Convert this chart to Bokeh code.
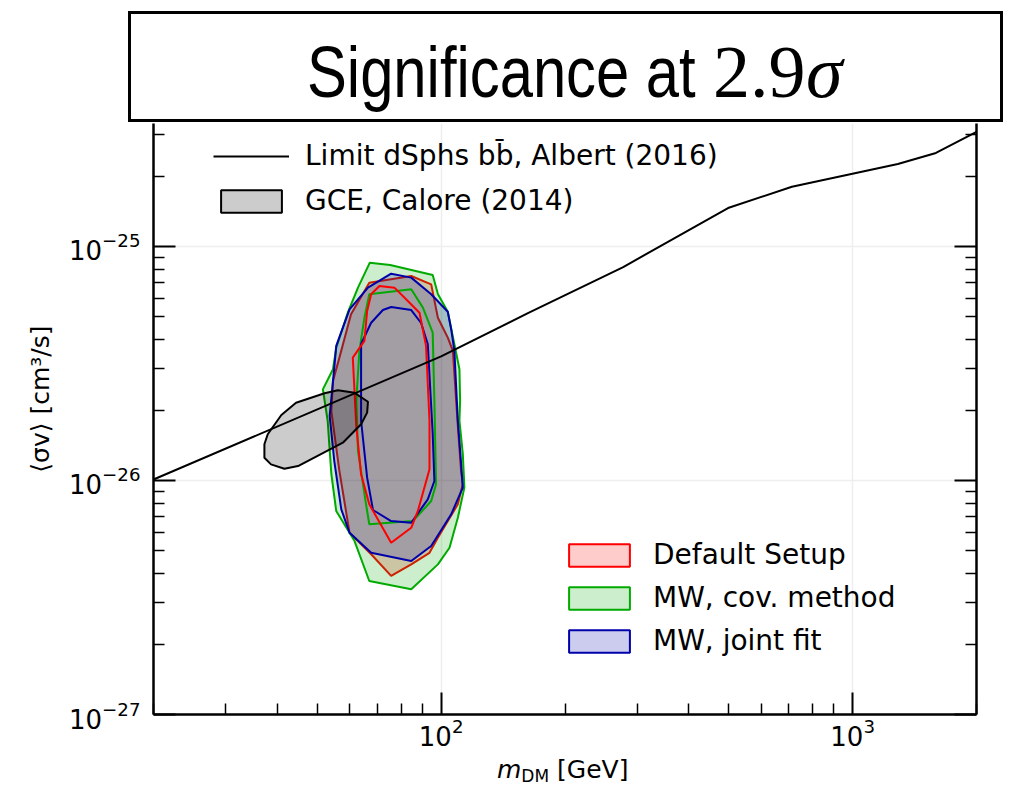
from bokeh.plotting import figure
from bokeh.layouts import column
from bokeh.models import LogAxis, FixedTicker, LogTickFormatter, Legend, LegendItem, Div
from bokeh.embed import file_html
from bokeh.resources import INLINE

# ---------------- data ----------------
x_major = [100, 1000]
x_minor = [20, 30, 40, 50, 60, 70, 80, 90, 200, 300, 400, 500, 600, 700, 800, 900, 2000]
y_major = [1e-27, 1e-26, 1e-25]
y_minor = [2e-27, 3e-27, 4e-27, 5e-27, 6e-27, 7e-27, 8e-27, 9e-27,
           2e-26, 3e-26, 4e-26, 5e-26, 6e-26, 7e-26, 8e-26, 9e-26,
           2e-25, 3e-25]

limit_mass = [20, 100, 163, 277, 498, 712, 1288, 1594, 2000]
limit_sv = [1.01e-26, 3.39e-26, 5.20e-26, 8.17e-26, 1.46e-25, 1.80e-25, 2.25e-25, 2.51e-25, 3.09e-25]

gce_mass = [56.1, 61.6, 66.4, 66.1, 63.9, 57.7, 44.9, 41.6, 38.6, 37.2, 37.2, 37.9, 40.9, 44.4, 52.1]
gce_sv = [2.43e-26, 2.37e-26, 2.17e-26, 1.95e-26, 1.74e-26, 1.45e-26, 1.153e-26, 1.123e-26,
          1.172e-26, 1.251e-26, 1.428e-26, 1.576e-26, 1.905e-26, 2.15e-26, 2.36e-26]

cov_outer_mass = [67.1, 75.2, 95.4, 98.2, 103.8, 107.7, 110.8, 111.2, 110.8, 112.9, 113.9, 109.8, 104.8,
                  98.2, 84.6, 66.9, 61.6, 55.6, 54.1, 53.0, 51.6, 54.6, 55.6, 59.3, 62.8]
cov_outer_sv = [8.53e-26, 8.34e-26, 7.55e-26, 6.26e-26, 5.26e-26, 3.82e-26, 2.99e-26, 2.19e-26, 1.80e-26,
                1.30e-26, 9.32e-27, 6.93e-27, 5.16e-27, 4.38e-27, 3.43e-27, 3.72e-27, 5.51e-27, 7.41e-27,
                1.066e-26, 1.80e-26, 2.45e-26, 2.99e-26, 3.69e-26, 5.21e-26, 6.67e-26]
cov_inner_mass = [66.9, 84.6, 90.3, 95.4, 96.3, 97.2, 94.6, 85.4, 66.9, 65.7, 62.8, 62.2, 63.3, 65.1]
cov_inner_sv = [6.25e-26, 6.57e-26, 5.48e-26, 4.28e-26, 2.19e-26, 9.63e-27, 8.17e-27, 6.71e-27,
                6.50e-27, 7.91e-27, 1.337e-26, 2.19e-26, 3.58e-26, 4.96e-26]

joint_outer_mass = [75.6, 84.6, 94.6, 103.8, 105.8, 107.7, 109.8, 111.4, 112.9, 105.8, 94.6, 84.6, 67.6,
                    59.9, 57.2, 55.0, 53.6, 55.1, 55.6, 59.9, 66.4]
joint_outer_sv = [7.65e-26, 7.36e-26, 6.25e-26, 5.26e-26, 4.43e-26, 3.58e-26, 1.80e-26, 1.294e-26,
                  9.32e-27, 7.17e-27, 5.25e-27, 4.53e-27, 4.91e-27, 5.98e-27, 7.53e-27, 1.211e-26,
                  1.887e-26, 3.14e-26, 3.76e-26, 5.39e-26, 6.67e-26]
joint_inner_mass = [75.6, 84.6, 89.4, 92.8, 95.4, 96.3, 92.8, 84.6, 75.6, 68.3, 66.1, 63.9, 63.9, 67.6, 72.2]
joint_inner_sv = [5.51e-26, 5.35e-26, 4.71e-26, 3.83e-26, 1.58e-26, 9.95e-27, 8.31e-27, 6.60e-27,
                  6.71e-27, 7.48e-27, 1.028e-26, 1.80e-26, 3.83e-26, 4.72e-26, 5.35e-26]

default_outer_mass = [66.9, 84.6, 94.6, 98.2, 103.8, 106.8, 109.8, 111.8, 112.9, 109.8, 98.2, 93.7, 84.6,
                      75.6, 67.6, 59.9, 56.6, 54.1, 54.6, 56.6, 60.4]
default_outer_sv = [7.00e-26, 7.48e-26, 6.89e-26, 4.96e-26, 4.08e-26, 3.58e-26, 1.71e-26, 1.098e-26,
                    9.63e-27, 7.91e-27, 5.69e-27, 4.91e-27, 4.38e-27, 3.91e-27, 4.84e-27, 5.98e-27,
                    1.098e-26, 1.98e-26, 2.66e-26, 3.35e-26, 5.13e-26]
default_inner_mass = [70.8, 77.0, 83.0, 88.6, 91.9, 93.7, 93.7, 87.8, 84.6, 75.6, 66.9, 63.9, 62.2,
                      61.0, 65.1, 66.1, 67.6]
default_inner_sv = [6.78e-26, 6.67e-26, 5.85e-26, 5.21e-26, 3.76e-26, 1.80e-26, 1.117e-26, 7.41e-27,
                    6.28e-27, 5.42e-27, 7.91e-27, 1.063e-26, 1.71e-26, 3.35e-26, 3.95e-26, 5.30e-26, 6.25e-26]

RED, GREEN, BLUE = "#ff0000", "#00aa00", "#0000aa"

# ---------------- title box (HTML strip above the plot) ----------------
title_html = (
    '<div style="position:relative;width:1009px;height:123px;overflow:hidden;background:white;">'
    '<div style="position:absolute;left:128px;top:11px;width:875px;height:111px;box-sizing:border-box;'
    'border:3px solid black;background:white;"></div>'
    '<span style="position:absolute;left:307px;top:36px;white-space:nowrap;'
    "font-family:'Liberation Sans';font-size:72px;line-height:72px;color:black;"
    'transform:scaleX(0.83);transform-origin:0 0;">Significance at</span>'
    '<span style="position:absolute;left:713px;top:35px;white-space:nowrap;'
    "font-family:'Liberation Serif';font-size:74px;line-height:74px;color:black;\">2.9</span>"
    '<span style="position:absolute;left:806px;top:35px;white-space:nowrap;'
    "font-family:'Liberation Serif';font-style:italic;font-size:74px;line-height:74px;color:black;\">\u03c3</span>"
    '</div>'
)
title_div = Div(text=title_html, width=1009, height=123, margin=0)

# ---------------- main figure ----------------
p = figure(frame_width=823, frame_height=591, x_axis_type="log", y_axis_type="log",
           x_range=(20, 2000), y_range=(1e-27, 3.354e-25), title=None,
           output_backend="svg", toolbar_location=None,
           min_border_left=153, min_border_right=33, min_border_top=0, min_border_bottom=44)
p.outline_line_color = None
p.background_fill_color = "white"
p.border_fill_color = "white"

right_axis = LogAxis()
p.add_layout(right_axis, "right")

def style_axis(ax, ticks, minor, show_labels=True):
    ax.ticker = FixedTicker(ticks=ticks, minor_ticks=minor)
    ax.formatter = LogTickFormatter()
    ax.axis_line_color = "black"
    ax.axis_line_width = 2.5
    ax.major_tick_in = 22
    ax.major_tick_out = 0
    ax.major_tick_line_width = 2
    ax.major_tick_line_color = "black"
    ax.minor_tick_in = 11
    ax.minor_tick_out = 0
    ax.minor_tick_line_width = 1.5
    ax.minor_tick_line_color = "black"
    ax.major_label_text_font = "DejaVu Sans"
    if show_labels:
        ax.major_label_text_font_size = "26px"
        ax.major_label_text_color = "black"
    else:
        ax.major_label_text_font_size = "1px"
        ax.major_label_text_color = None
        ax.major_label_standoff = 0

style_axis(p.below[0], x_major, x_minor)
p.below[0].major_label_standoff = 3
style_axis(p.left[0], y_major, y_minor)
p.left[0].major_label_standoff = 13
p.left[0].axis_label = "\u00a0" * 5 + "\u27e8\u03c3v\u27e9 [cm\u00b3/s]"
p.left[0].axis_label_text_font = "DejaVu Sans"
p.left[0].axis_label_text_font_size = "25px"
p.left[0].axis_label_text_font_style = "normal"
p.left[0].axis_label_text_color = "black"
p.left[0].axis_label_standoff = 11
style_axis(right_axis, y_major, y_minor, show_labels=False)

p.xgrid.grid_line_color = "#eeeeee"
p.xgrid.grid_line_width = 1.5
p.ygrid.grid_line_color = "#eeeeee"
p.ygrid.grid_line_width = 1.5

# contours
r_def = p.patch(default_outer_mass, default_outer_sv, fill_color=RED, fill_alpha=0.2, line_color=RED, line_width=2)
r_cov = p.patch(cov_outer_mass, cov_outer_sv, fill_color=GREEN, fill_alpha=0.2, line_color=GREEN, line_width=2)
r_joint = p.patch(joint_outer_mass, joint_outer_sv, fill_color=BLUE, fill_alpha=0.2, line_color=BLUE, line_width=2)
p.patch(cov_inner_mass, cov_inner_sv, fill_alpha=0, line_color=GREEN, line_width=2)
p.patch(joint_inner_mass, joint_inner_sv, fill_alpha=0, line_color=BLUE, line_width=2)
p.patch(default_inner_mass, default_inner_sv, fill_alpha=0, line_color=RED, line_width=2)

r_gce = p.patch(gce_mass, gce_sv, fill_color="black", fill_alpha=0.2, line_color="black", line_width=2)
r_limit = p.line(limit_mass, limit_sv, line_color="black", line_width=2)

# legends
def style_legend(lg, standoff, spacing):
    lg.label_text_font = "DejaVu Sans"
    lg.label_text_font_size = "28px"
    lg.label_text_color = "black"
    lg.glyph_width = 76
    lg.glyph_height = 28
    lg.label_standoff = standoff
    lg.spacing = spacing
    lg.padding = 0
    lg.margin = 0
    lg.border_line_color = None
    lg.background_fill_alpha = 0

leg1 = Legend(items=[
    LegendItem(label="Limit dSphs bb\u0304, Albert (2016)", renderers=[r_limit]),
    LegendItem(label="GCE, Calore (2014)", renderers=[r_gce]),
], location=(60, 497))
style_legend(leg1, 16, 12)
p.add_layout(leg1)

leg2 = Legend(items=[
    LegendItem(label="Default Setup", renderers=[r_def]),
    LegendItem(label="MW, cov. method", renderers=[r_cov]),
    LegendItem(label="MW, joint fit", renderers=[r_joint]),
], location=(408, 57))
style_legend(leg2, 16, 10)
p.add_layout(leg2)

# ---------------- x-axis label (HTML strip below the plot) ----------------
xlabel_html = (
    '<div style="position:relative;width:1009px;height:31px;background:white;">'
    '<span style="position:absolute;left:497px;top:1px;white-space:nowrap;'
    "font-family:'DejaVu Sans';font-size:25px;line-height:22px;color:black;\">"
    '<i>m</i><span style="font-size:17px;position:relative;top:4px;">DM</span> [GeV]</span>'
    '</div>'
)
xlabel_div = Div(text=xlabel_html, width=1009, height=31, margin=0)

layout = column(title_div, p, xlabel_div, spacing=0)
open("out.html", "w").write(file_html(layout, INLINE))
